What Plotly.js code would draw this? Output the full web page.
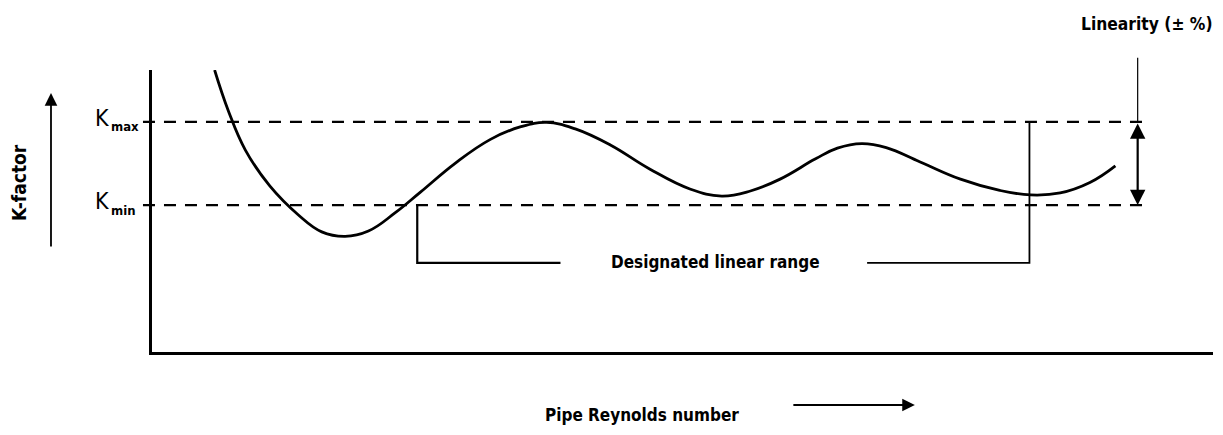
<!DOCTYPE html>
<html>
<head>
<meta charset="utf-8">
<script src="https://cdn.plot.ly/plotly-3.0.1.min.js"></script>
<style>html,body{margin:0;padding:0;background:#fff;}#chart{width:1223px;height:435px;}</style>
</head>
<body>
<div id="chart"></div>
<script>
// Schematic K-factor curve versus pipe Reynolds number (arbitrary 0-100 units)
const reynolds = [5.9, 7.2, 8.8, 11.1, 13.8, 16.0, 18.2, 20.4, 22.9, 25.3,
  28.6, 31.9, 34.7, 37.2, 39.9, 43.2, 46.9, 50.7, 53.7, 56.4,
  59.2, 62.5, 64.6, 66.9, 69.2, 72.4, 76.2, 79.9, 82.8, 85.6,
  88.4, 90.8];
const kFactor = [100, 85.5, 71.6, 58.9, 48.6, 42.6, 41.0, 42.9, 49.3, 56.7,
  67.0, 75.4, 79.8, 81.4, 79.1, 73.4, 64.9, 57.8, 55.3, 57.1,
  61.3, 68.4, 72.3, 73.9, 72.5, 67.4, 61.3, 57.3, 55.7, 56.4,
  60.1, 66.0];
const kMax = 81.6;
const kMin = 52.1;
const linearRangeStart = 25.0;
const linearRangeEnd = 82.7;
const bracketLevel = 31.6;
const bracketLeftEnd = 38.5;
const bracketRightStart = 67.4;
const linearityX = 92.9;
const levelLabels = [{k: kMax, sub: 'max'}, {k: kMin, sub: 'min'}];
const fam = '"DejaVu Sans Condensed", "Liberation Sans Narrow", "Liberation Sans", Arial, sans-serif';
const bold = (size) => ({family: fam, size: size, color: '#000', weight: 'bold'});

const trace = {
  x: reynolds, y: kFactor, type: 'scatter', mode: 'lines',
  line: {color: '#000', width: 2.8, shape: 'spline', smoothing: 1.2},
  hoverinfo: 'skip'
};

const dash = {color: '#000', width: 2.2, dash: '12px,9px'};
const solid = {color: '#000', width: 2.2};

const annotations = [
  {xref: 'x', yref: 'y', x: linearityX, y: kMin, axref: 'x', ayref: 'y', ax: linearityX, ay: kMax,
   text: '', showarrow: true, arrowhead: 2, arrowside: 'end+start', arrowsize: 1.4, arrowwidth: 2.2, arrowcolor: '#000'},
  {xref: 'paper', yref: 'paper', x: -0.0952, y: 0.918, ax: 0, ay: 155,
   text: '', showarrow: true, arrowhead: 2, arrowsize: 1.4, arrowwidth: 1.8, arrowcolor: '#000'},
  {xref: 'paper', yref: 'paper', x: 0.719, y: -0.188, ax: -123, ay: 0,
   text: '', showarrow: true, arrowhead: 2, arrowsize: 1.4, arrowwidth: 1.8, arrowcolor: '#000'},
  {xref: 'paper', yref: 'paper', x: 0.938, y: 1.163, text: 'Linearity (± %)', showarrow: false,
   xanchor: 'center', yanchor: 'middle', font: bold(17.3)},
  {xref: 'paper', yref: 'paper', x: -0.1254, y: 0.603, text: 'K-factor', showarrow: false, textangle: -90,
   xanchor: 'center', yanchor: 'middle', font: bold(19)},
  {xref: 'paper', yref: 'paper', x: 0.462, y: -0.2234, text: 'Pipe Reynolds number', showarrow: false,
   xanchor: 'center', yanchor: 'middle', font: bold(17)},
  {xref: 'x', yref: 'y', x: 53.1, y: 31.9, text: 'Designated linear range', showarrow: false,
   xanchor: 'center', yanchor: 'middle', font: bold(17)}
];
levelLabels.forEach(l => {
  annotations.push({xref: 'paper', yref: 'y', x: -0.0396, y: l.k, yshift: 4, text: 'K', showarrow: false,
    xanchor: 'right', yanchor: 'middle', borderpad: 0, font: {family: fam, size: 23, color: '#000'}});
  annotations.push({xref: 'paper', yref: 'y', x: -0.0396, y: l.k, yshift: -5, text: l.sub, showarrow: false,
    xanchor: 'left', yanchor: 'middle', borderpad: 0, font: {family: fam, size: 13, color: '#000', weight: 'bold'}});
});

const layout = {
  width: 1223, height: 435,
  margin: {l: 152, r: 10, t: 70, b: 83},
  paper_bgcolor: '#fff', plot_bgcolor: '#fff',
  showlegend: false,
  xaxis: {range: [0, 100], showgrid: false, zeroline: false, showticklabels: false, ticks: '',
          showline: true, linecolor: '#000', linewidth: 3, fixedrange: true},
  yaxis: {range: [0, 100], showgrid: false, zeroline: false, showticklabels: false, ticks: '',
          showline: true, linecolor: '#000', linewidth: 3, fixedrange: true},
  shapes: [
    {type: 'line', xref: 'paper', yref: 'y', x0: -0.0085, x1: 0.938, y0: kMax, y1: kMax, line: dash},
    {type: 'line', xref: 'paper', yref: 'y', x0: -0.0085, x1: 0.938, y0: kMin, y1: kMin, line: dash},
    {type: 'path', xref: 'x', yref: 'y',
     path: `M ${linearRangeStart} ${kMin} L ${linearRangeStart} ${bracketLevel} L ${bracketLeftEnd} ${bracketLevel}`,
     line: solid},
    {type: 'path', xref: 'x', yref: 'y',
     path: `M ${bracketRightStart} ${bracketLevel} L ${linearRangeEnd} ${bracketLevel} L ${linearRangeEnd} ${kMax}`,
     line: {color: '#000', width: 1.8}},
    {type: 'line', xref: 'x', yref: 'paper', x0: linearityX, x1: linearityX, y0: kMax / 100, y1: 1.043,
     line: {color: '#000', width: 1.2}}
  ],
  annotations: annotations
};

Plotly.newPlot('chart', [trace], layout, {displayModeBar: false, staticPlot: true});
</script>
</body>
</html>
